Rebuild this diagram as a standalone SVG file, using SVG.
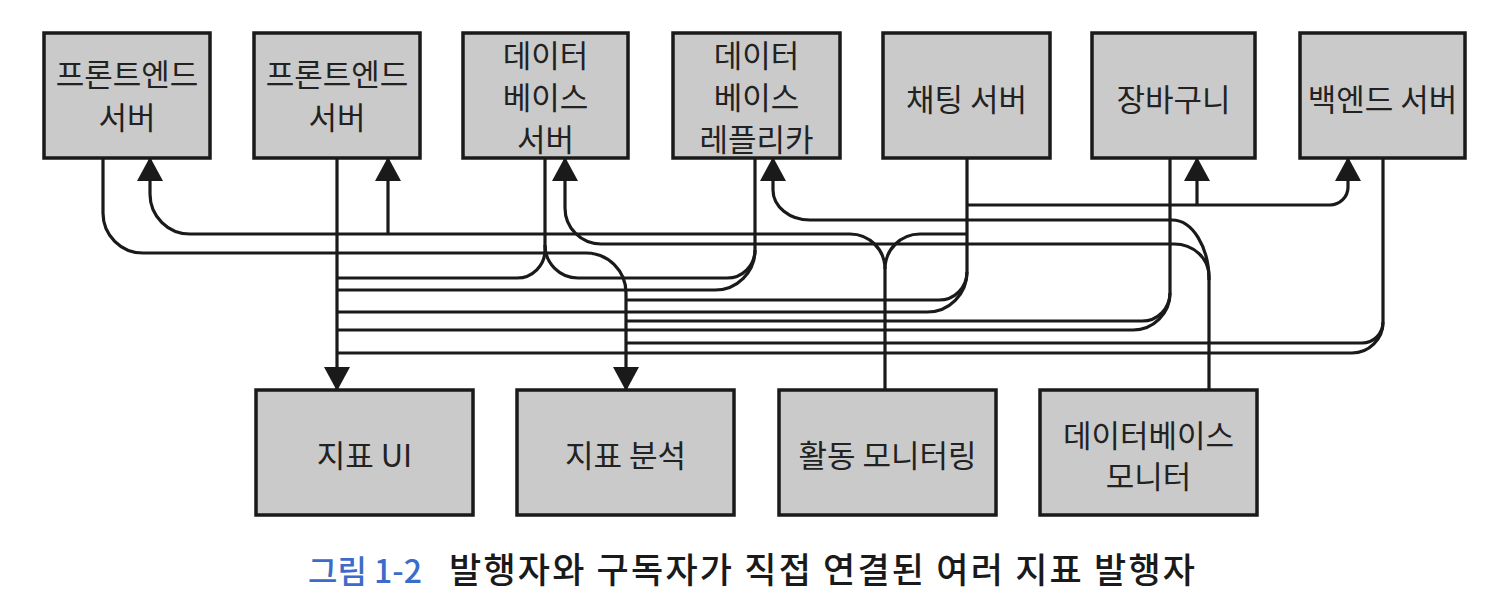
<svg xmlns="http://www.w3.org/2000/svg" width="1500" height="606" viewBox="0 0 1500 606">
<style>
.box{fill:#cacaca;stroke:#1a1a1a;stroke-width:3.5}
.lbl{font-family:"Noto Sans CJK KR","Noto Sans",sans-serif;font-size:31px;fill:#222;text-anchor:middle}
.ln{fill:none;stroke:#1a1a1a;stroke-width:3.2}
.cap{font-family:"Noto Sans CJK KR","Noto Sans",sans-serif;font-size:35px;font-weight:500}
.capb{font-family:"Noto Sans CJK KR","Noto Sans",sans-serif;font-size:32px;font-weight:500;fill:#3d6bc9}
</style>
<defs>
<marker id="ah" markerUnits="userSpaceOnUse" markerWidth="24" markerHeight="26" viewBox="0 0 24 26" refX="23" refY="13" orient="auto">
<path d="M0,0 L24,13 L0,26 Z" fill="#1a1a1a"/>
</marker>
</defs>
<rect width="1500" height="606" fill="#ffffff"/>

<g id="connectors">
<path class="ln" d="M103,158 V213 A40,40 0 0 0 143,253 H586 A40,40 0 0 1 626,293 V390" marker-end="url(#ah)"/>
<path class="ln" d="M337,158 V390" marker-end="url(#ah)"/>
<path class="ln" d="M885,390 V269 A35,35 0 0 0 850,234 H190 A40,40 0 0 1 150,194 V158" marker-end="url(#ah)"/>
<path class="ln" d="M388,234 V158" marker-end="url(#ah)"/>
<path class="ln" d="M885,269 A35,35 0 0 1 920,234 H967"/>
<path class="ln" d="M1209,390 V276 A35,32 0 0 0 1174,244 H601 A36,36 0 0 1 565,208 V158" marker-end="url(#ah)"/>
<path class="ln" d="M1209,280 A37,60 0 0 0 1172,220 H810 A37,30 0 0 1 773,190 V158" marker-end="url(#ah)"/>
<path class="ln" d="M967,205 H1330 A18,18 0 0 0 1348,187 V158" marker-end="url(#ah)"/>
<path class="ln" d="M1197,205 V158" marker-end="url(#ah)"/>
<path class="ln" d="M967,158 V272 A40,40 0 0 1 927,312 H337"/>
<path class="ln" d="M967,272 A28,28 0 0 1 939,300 H626"/>
<path class="ln" d="M1170,158 V293 A37,37 0 0 1 1133,330 H337"/>
<path class="ln" d="M1170,293 A28,28 0 0 1 1142,321 H626"/>
<path class="ln" d="M1383,158 V322 A31,31 0 0 1 1352,353 H337"/>
<path class="ln" d="M1383,322 A21,21 0 0 1 1362,343 H626"/>
<path class="ln" d="M545,158 V250 A28,28 0 0 1 517,278 H337"/>
<path class="ln" d="M755,158 V250 A28,28 0 0 1 727,278 H578 A33,33 0 0 1 545,245"/>
<path class="ln" d="M755,250 A40,40 0 0 1 715,290 H337"/>
</g>

<g id="n-fe1"><rect class="box" x="44" y="33" width="166" height="125"/><text class="lbl" x="127" y="86">프론트엔드</text><text class="lbl" x="127" y="129">서버</text></g>
<g id="n-fe2"><rect class="box" x="254" y="33" width="166" height="125"/><text class="lbl" x="337" y="86">프론트엔드</text><text class="lbl" x="337" y="129">서버</text></g>
<g id="n-db"><rect class="box" x="463" y="33" width="165" height="125"/><text class="lbl" x="545.5" y="67">데이터</text><text class="lbl" x="545.5" y="109">베이스</text><text class="lbl" x="545.5" y="151">서버</text></g>
<g id="n-replica"><rect class="box" x="673" y="33" width="167" height="125"/><text class="lbl" x="756.5" y="67">데이터</text><text class="lbl" x="756.5" y="109">베이스</text><text class="lbl" x="756.5" y="151">레플리카</text></g>
<g id="n-chat"><rect class="box" x="883" y="33" width="167" height="125"/><text class="lbl" x="966.5" y="111">채팅 서버</text></g>
<g id="n-cart"><rect class="box" x="1092" y="33" width="163" height="125"/><text class="lbl" x="1173.5" y="111">장바구니</text></g>
<g id="n-backend"><rect class="box" x="1300" y="33" width="165" height="125"/><text class="lbl" x="1382.5" y="111">백엔드 서버</text></g>

<g id="n-ui"><rect class="box" x="256" y="390" width="217" height="125"/><text class="lbl" x="364.5" y="467">지표 UI</text></g>
<g id="n-analysis"><rect class="box" x="517" y="390" width="217" height="125"/><text class="lbl" x="625.5" y="467">지표 분석</text></g>
<g id="n-activity"><rect class="box" x="779" y="390" width="217" height="125"/><text class="lbl" x="887.5" y="467">활동 모니터링</text></g>
<g id="n-dbmon"><rect class="box" x="1040" y="390" width="217" height="125"/><text class="lbl" x="1148.5" y="447">데이터베이스</text><text class="lbl" x="1148.5" y="488">모니터</text></g>

<text class="capb" x="308" y="583">그림 1-2</text>
<text class="cap" x="449" y="583" fill="#1a1a1a" textLength="746">발행자와 구독자가 직접 연결된 여러 지표 발행자</text>
</svg>
